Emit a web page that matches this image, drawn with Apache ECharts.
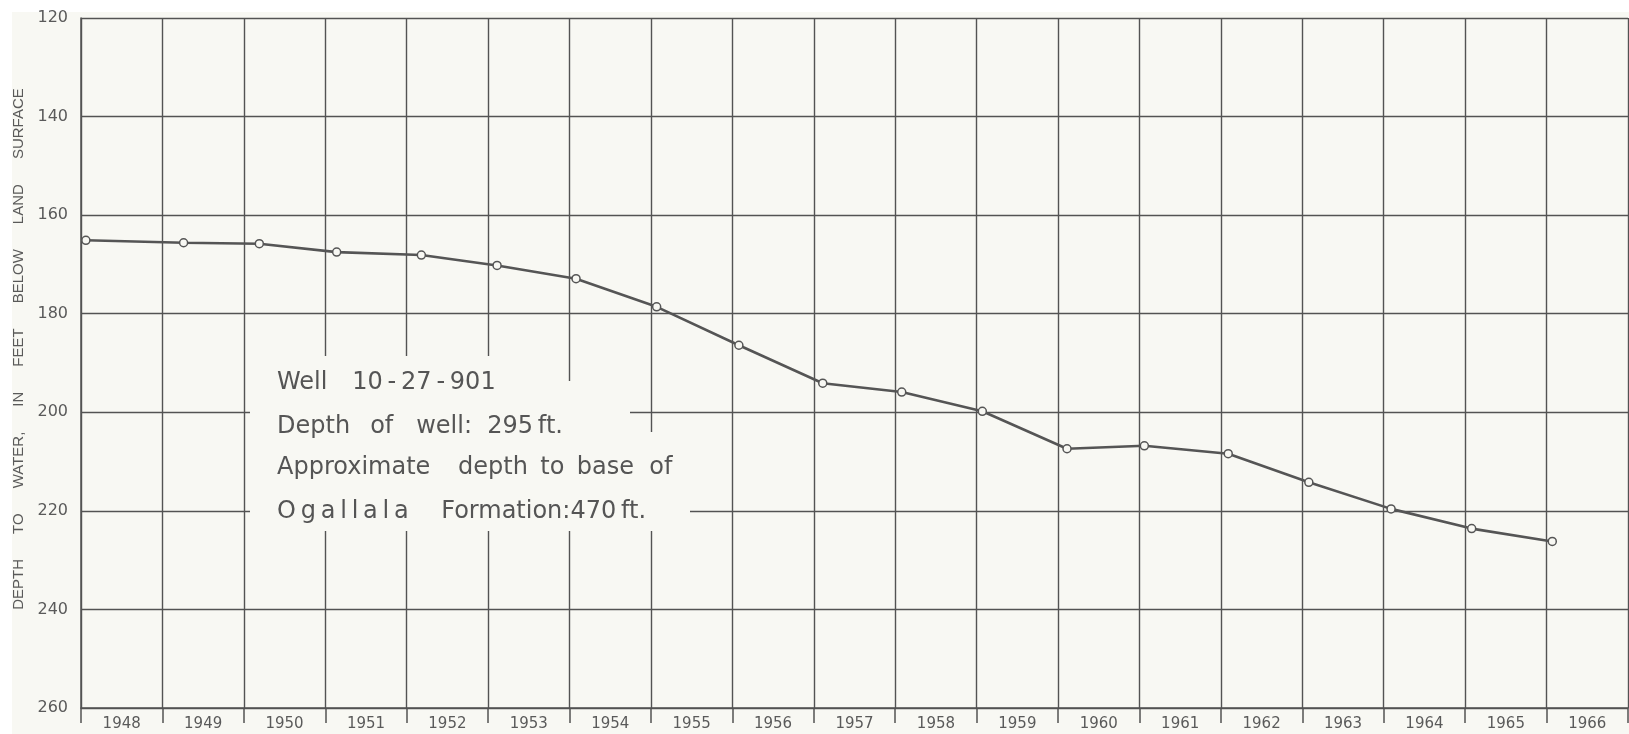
<!DOCTYPE html>
<html>
<head>
<meta charset="utf-8">
<title>Well 10-27-901 hydrograph</title>
<script src="https://cdn.jsdelivr.net/npm/echarts@6/dist/echarts.min.js"></script>
<style>
  html, body { margin: 0; padding: 0; background: #ffffff; }
  #chart { width: 1629px; height: 734px; }
</style>
</head>
<body>
<div id="chart"></div>
<script>
// Year columns along the bottom (each label sits inside its year)
const years = ['1948', '1949', '1950', '1951', '1952', '1953', '1954', '1955', '1956', '1957',
               '1958', '1959', '1960', '1961', '1962', '1963', '1964', '1965', '1966'];

// Measurement dates as decimal years
const measuredAt = [1948.06, 1949.26, 1950.19, 1951.14, 1952.18, 1953.11, 1954.08, 1955.07, 1956.08, 1957.11,
                    1958.08, 1959.07, 1960.11, 1961.06, 1962.09, 1963.08, 1964.09, 1965.08, 1966.07];

// Depth to water, feet below land surface
const depthFt = [165.1, 165.6, 165.8, 167.5, 168.1, 170.2, 172.9, 178.6, 186.4, 194.1,
                 195.9, 199.8, 207.4, 206.8, 208.4, 214.2, 219.6, 223.6, 226.2];

// Depth scale
const depthMin = 120;
const depthMax = 260;
const depthStep = 20;

// Note lettered on the chart (thin spaces mimic the hand-lettered spacing)
const TH = '\u2009';
const HR = '\u200A';
const noteLines = [
  'Well  ' + TH + TH + '10' + TH + '-' + TH + '27' + TH + '-' + TH + '901',
  'Depth  ' + TH + 'of   well:  295' + TH + 'ft.',
  'Approximate   ' + TH + 'depth ' + TH + 'to ' + TH + 'base  of',
  ['O', 'g', 'a', 'l', 'l', 'a', 'l', 'a'].join(HR + HR) + '   ' + TH + TH + 'Formation:470' + TH + 'ft.'
];

const yTitle = ['DEPTH', 'TO', 'WATER,', 'IN', 'FEET', 'BELOW', 'LAND', 'SURFACE'].join('      ');

const ink = '#535353';
const paper = '#f8f8f3';
const labelFont = '"DejaVu Sans", "Liberation Sans", sans-serif';
const titleFont = '"Liberation Sans", "DejaVu Sans", sans-serif';

const points = measuredAt.map((t, i) => [t, depthFt[i]]);

const chart = echarts.init(document.getElementById('chart'), null, { renderer: 'canvas' });

// Vertical centres of the four lettered note lines
const noteCentres = [383, 427, 468, 512];

const option = {
  backgroundColor: '#ffffff',
  animation: false,
  grid: { left: 81, right: 1, top: 18, bottom: 26, containLabel: false },
  xAxis: [
    {
      type: 'category',
      data: years,
      boundaryGap: true,
      position: 'bottom',
      axisLine: { show: true, lineStyle: { color: ink, width: 1.5 } },
      axisTick: { show: true, length: 15, inside: false, lineStyle: { color: ink, width: 1.5 } },
      axisLabel: { color: '#5a5a5a', fontSize: 15, fontFamily: labelFont, margin: 9 },
      splitLine: { show: true, lineStyle: { color: ink, width: 1.4 } }
    },
    {
      type: 'value',
      min: 1948,
      max: 1967,
      show: false,
      splitLine: { show: false }
    }
  ],
  yAxis: {
    type: 'value',
    inverse: true,
    min: depthMin,
    max: depthMax,
    interval: depthStep,
    axisLine: { show: true, lineStyle: { color: ink, width: 1.5 } },
    axisTick: { show: false },
    axisLabel: { color: '#5a5a5a', fontSize: 16, fontFamily: labelFont, margin: 13 },
    splitLine: { show: true, lineStyle: { color: ink, width: 1.4 } }
  },
  series: [
    {
      type: 'line',
      xAxisIndex: 1,
      data: points,
      symbol: 'circle',
      symbolSize: 8,
      showAllSymbol: true,
      lineStyle: { color: '#555555', width: 2.6 },
      itemStyle: { color: paper, borderColor: '#555555', borderWidth: 1.5 },
      z: 5
    }
  ],
  graphic: [
    // paper sheet
    {
      type: 'rect', z: -10, silent: true,
      shape: { x: 12, y: 12, width: 1629, height: 734 },
      style: { fill: paper }
    },
    // clear ground behind the lettered note
    {
      type: 'rect', z: 50, silent: true,
      shape: { x: 250, y: 356, width: 312, height: 175 },
      style: { fill: paper }
    },
    {
      type: 'rect', z: 50, silent: true,
      shape: { x: 250, y: 381, width: 380, height: 150 },
      style: { fill: paper }
    },
    {
      type: 'rect', z: 50, silent: true,
      shape: { x: 250, y: 432, width: 440, height: 99 },
      style: { fill: paper }
    },
    // axis title
    {
      type: 'text', z: 60, silent: true,
      x: 19, y: 349, rotation: Math.PI / 2,
      style: {
        text: yTitle,
        fill: '#5a5a5a',
        font: '15px ' + titleFont,
        align: 'center',
        verticalAlign: 'middle'
      }
    }
  ].concat(noteLines.map((line, i) => ({
    type: 'text', z: 60, silent: true,
    x: 277, y: noteCentres[i],
    style: {
      text: line,
      fill: '#555555',
      font: '24px ' + labelFont,
      align: 'left',
      verticalAlign: 'middle'
    }
  })))
};

chart.setOption(option);
</script>
</body>
</html>
